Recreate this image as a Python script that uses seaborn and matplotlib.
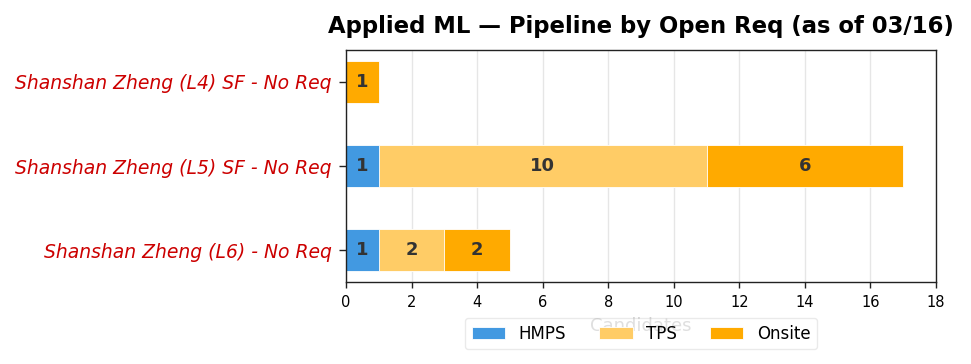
import matplotlib
matplotlib.use("Agg")
import matplotlib.pyplot as plt
import seaborn as sns
import pandas as pd
import numpy as np

categories = ["Shanshan Zheng (L4) SF - No Req",
              "Shanshan Zheng (L5) SF - No Req",
              "Shanshan Zheng (L6) - No Req"]
stages = ["HMPS", "TPS", "Onsite"]
hmps = [0, 1, 1]
tps = [0, 10, 2]
onsite = [1, 6, 2]
colors = {"HMPS": "#4299E1", "TPS": "#FFCC66", "Onsite": "#FFAA00"}

sns.set_style("white")
plt.rcParams['font.family'] = ['DejaVu Sans']
plt.rcParams['text.color'] = 'black'
plt.rcParams['xtick.color'] = '#222222'
plt.rcParams['ytick.color'] = '#222222'

fig, ax = plt.subplots(figsize=(9.71, 3.64), dpi=100)
fig.subplots_adjust(left=0.3563, right=0.964, top=0.8626, bottom=0.2253)

vals = np.array([hmps, tps, onsite], dtype=float)
cum = np.cumsum(vals, axis=0)

# draw from largest cumulative to smallest so segments layer correctly
for i in range(len(stages) - 1, -1, -1):
    df = pd.DataFrame({"cat": categories, "val": cum[i]})
    sns.barplot(data=df, x="val", y="cat", orient="h", color=colors[stages[i]],
                width=0.5, edgecolor="white", linewidth=0.6, ax=ax,
                saturation=1, label=stages[i], zorder=2)

for j in range(len(categories)):
    for i in range(len(stages)):
        v = vals[i, j]
        if v > 0:
            start = cum[i, j] - v
            ax.text(start + v / 2, j, f"{int(v)}", ha="center", va="center",
                    fontsize=13, fontweight="bold", color="#333333", zorder=3)

ax.set_xlim(0, 18)
ax.set_ylim(2.375, -0.375)
ax.set_xticks(np.arange(0, 19, 2))
ax.tick_params(axis="x", labelsize=10.5, length=4.5, width=1, bottom=True,
               pad=5, labelcolor="black")
ax.tick_params(axis="y", length=5, width=1, left=True, pad=5.5)
for lab in ax.get_yticklabels():
    lab.set_fontsize(13.5)
    lab.set_style("italic")
    lab.set_color("#CC0000")
ax.set_ylabel("")
ax.set_xlabel("Candidates", fontsize=13, color="#D2D2D2", labelpad=5)
ax.xaxis.grid(True, color="#E6E6E6", linewidth=1, zorder=0)
ax.set_axisbelow(True)
for s in ax.spines.values():
    s.set_color("#222222")
    s.set_linewidth(1)

handles, labels = ax.get_legend_handles_labels()
order = [labels.index(s) for s in stages]
leg = ax.legend([handles[k] for k in order], [labels[k] for k in order],
                loc="upper center", bbox_to_anchor=(0.5, -0.12), ncol=3,
                fontsize=12, frameon=True, handlelength=2.0, columnspacing=2.0,
                framealpha=0.3)
leg.get_frame().set_edgecolor("#BBBBBB")

ax.set_title("Applied ML — Pipeline by Open Req (as of 03/16)",
             fontsize=16.4, fontweight="bold", pad=12, color="black")

fig.savefig("out.png", dpi=100)
